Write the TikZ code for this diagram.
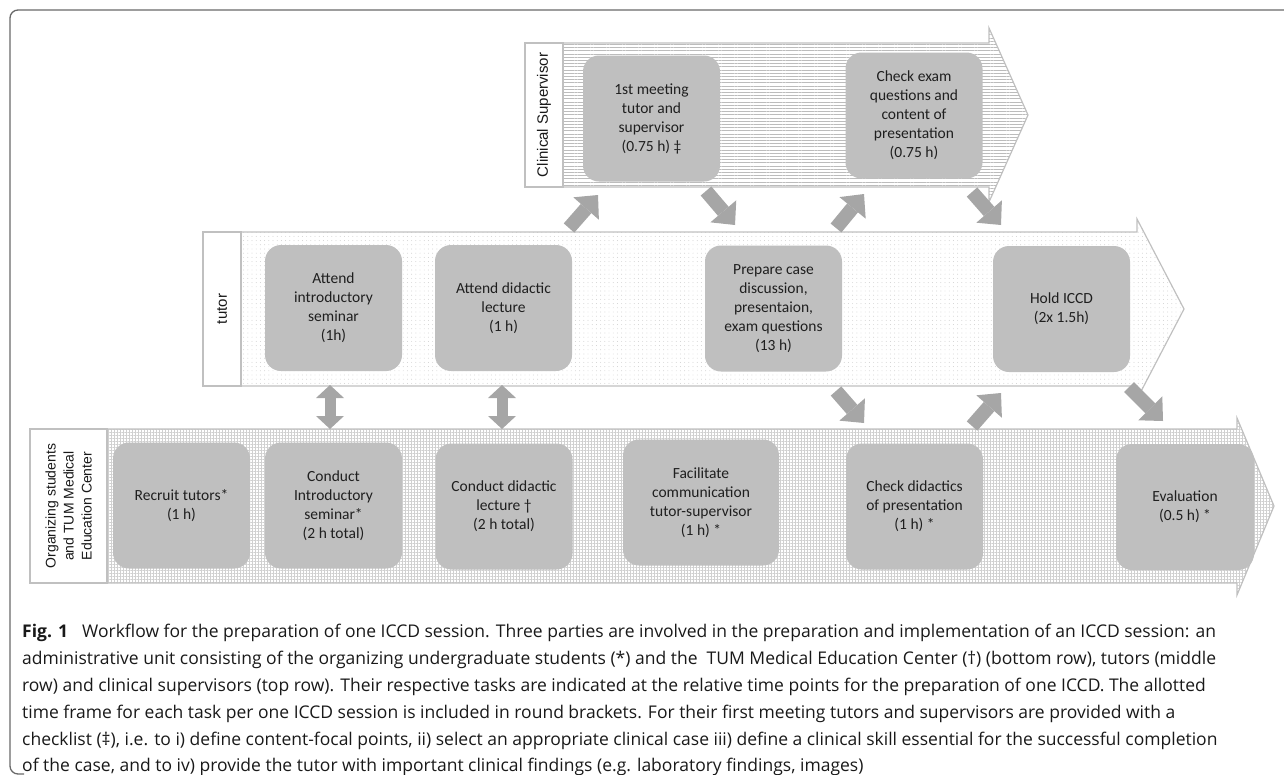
\documentclass[tikz,border=0pt]{standalone}
\usepackage{fontspec}
\setmainfont{Open Sans}
\newfontfamily\calfont{Carlito}
\newfontfamily\arialfont{Liberation Sans}
\usetikzlibrary{arrows.meta,patterns.meta}
\definecolor{boxgray}{RGB}{191,191,191}
\definecolor{arrowgray}{RGB}{166,166,166}
\definecolor{bandline}{RGB}{192,192,192}
\definecolor{framegray}{RGB}{105,105,105}
\definecolor{patgray}{RGB}{188,188,188}
\definecolor{patlight}{RGB}{200,200,200}
\definecolor{patgrid}{RGB}{208,208,208}
\tikzset{
  task/.style={fill=boxgray, rounded corners=16pt, minimum width=137pt, minimum height=126pt,
    align=center, inner sep=0pt, text=black!88, font=\calfont\fontsize{15.5}{19}\selectfont},
  lanelabel/.style={rotate=90, align=center, inner sep=0pt, text=black!90},
  labelbox/.style={draw=bandline, line width=1.2pt, fill=white},
  bandtop/.style={draw=bandline, line width=1.2pt, pattern={Lines[angle=0,distance=3.2pt,line width=0.8pt]}, pattern color=patgray},
  bandmid/.style={draw=bandline, line width=1.2pt, pattern={Dots[radius=0.45pt,distance=4.2pt]}, pattern color=patlight},
  bandbot/.style={draw=bandline, line width=1.2pt, pattern={Hatch[angle=0,distance=3pt,line width=0.3pt]}, pattern color=patgrid},
  flowarrow/.style={draw=arrowgray, line width=14pt, -{Triangle[width=34pt,length=18pt,line width=0pt]}},
  linkarrow/.style={draw=arrowgray, line width=11pt, {Triangle[width=28pt,length=13pt,line width=0pt]}-{Triangle[width=28pt,length=13pt,line width=0pt]}},
  captext/.style={anchor=base west, inner sep=0pt, font=\fontsize{17.5}{27}\selectfont, text=black!90}
}
\begin{document}
\begin{tikzpicture}[x=1pt,y=-1pt]
\useasboundingbox (0,0) rectangle (1284,774);
% outer frame
\draw[framegray, line width=1.3pt, rounded corners=8pt] (1290,10) -- (10,10) -- (10,774) -- (24,774);

% ---- lanes ----
% top lane: Clinical Supervisor
\draw[bandtop] (563,43) -- (989,43) -- (989,28) -- (1028,115) -- (989,202) -- (989,187) -- (563,187) -- cycle;
\draw[labelbox] (525,43) rectangle (563,187);
\node[lanelabel, font=\arialfont\fontsize{15}{17}\selectfont] (labS) at (544,115) {Clinical Supervisor};

% middle lane: tutor
\draw[bandmid] (241,232) -- (1137,232) -- (1137,219) -- (1184,309) -- (1137,399) -- (1137,386) -- (241,386) -- cycle;
\draw[labelbox] (203,232) rectangle (241,386);
\node[lanelabel, font=\arialfont\fontsize{15}{17}\selectfont] (labT) at (222,309) {tutor};

% bottom lane: organizing students
\draw[bandbot] (107,429) -- (1237,429) -- (1237,418) -- (1274,506) -- (1237,595) -- (1237,583) -- (107,583) -- cycle;
\draw[labelbox] (30,429) rectangle (107,583);
\node[lanelabel, font=\arialfont\fontsize{14}{18}\selectfont] (labO) at (68.5,506) {Organizing students\\and TUM Medical\\Education Center};

% ---- tasks ----
\node[task] (s1) at (651.5,118.5) {1st meeting\\tutor and\\supervisor\\(0.75 h) ‡};
\node[task] (s2) at (914,115.5) {Check exam\\questions and\\content of\\presentation\\(0.75 h)};

\node[task] (t1) at (333.5,308) {Attend\\introductory\\seminar\\(1h)};
\node[task] (t2) at (503.5,308) {Attend didactic\\lecture\\(1 h)};
\node[task] (t3) at (773.5,308.5) {Prepare case\\discussion,\\presentaion,\\exam questions\\(13 h)};
\node[task] (t4) at (1061.5,309) {Hold ICCD\\(2x 1.5h)};

\node[task] (b1) at (181.5,505.5) {Recruit tutors*\\(1 h)};
\node[task] (b2) at (333.5,505.5) {Conduct\\Introductory\\seminar*\\(2 h total)};
\node[task] (b3) at (504,506.5) {Conduct didactic\\lecture †\\(2 h total)};
\node[task, minimum width=156pt] (b4) at (701,502.5) {Facilitate\\communication\\tutor-supervisor\\(1 h) *};
\node[task] (b5) at (914.5,506.5) {Check didactics\\of presentation\\(1 h) *};
\node[task, minimum width=138pt] (b6) at (1185,507) {Evaluation\\(0.5 h) *};

% ---- connector end points ----
\coordinate (a1s) at (569,228);  \coordinate (a1e) at (598,195);
\coordinate (a2s) at (706,191);  \coordinate (a2e) at (735,225);
\coordinate (a3s) at (836,228);  \coordinate (a3e) at (864,194);
\coordinate (a4s) at (972,192);  \coordinate (a4e) at (1001,225);
\coordinate (a5s) at (836,391);  \coordinate (a5e) at (864,423);
\coordinate (a6s) at (972,426);  \coordinate (a6e) at (1001,393);
\coordinate (a7s) at (1129,387); \coordinate (a7e) at (1163,421);
\coordinate (d1s) at (330,385);  \coordinate (d1e) at (330,429);
\coordinate (d2s) at (502,385);  \coordinate (d2e) at (502,429);

\draw[flowarrow] (a1s) -- (a1e);
\draw[flowarrow] (a2s) -- (a2e);
\draw[flowarrow] (a3s) -- (a3e);
\draw[flowarrow] (a4s) -- (a4e);
\draw[flowarrow] (a5s) -- (a5e);
\draw[flowarrow] (a6s) -- (a6e);
\draw[flowarrow] (a7s) -- (a7e);
\draw[linkarrow] (d1s) -- (d1e);
\draw[linkarrow] (d2s) -- (d2e);

% ---- caption ----
\node[captext] (cap1) at (22,637) {\textbf{Fig. 1}\hspace{0.55em} Workflow for the preparation of one ICCD session. Three parties are involved in the preparation and implementation of an ICCD session: an};
\node[captext] (cap2) at (22,664) {administrative unit consisting of the organizing undergraduate students (*) and the \ TUM Medical Education Center (†) (bottom row), tutors (middle};
\node[captext] (cap3) at (22,691) {row) and clinical supervisors (top row). Their respective tasks are indicated at the relative time points for the preparation of one ICCD. The allotted};
\node[captext] (cap4) at (22,718) {time frame for each task per one ICCD session is included in round brackets. For their first meeting tutors and supervisors are provided with a};
\node[captext] (cap5) at (22,745) {checklist (‡), i.e. to i) define content-focal points, ii) select an appropriate clinical case iii) define a clinical skill essential for the successful completion};
\node[captext] (cap6) at (22,771) {of the case, and to iv) provide the tutor with important clinical findings (e.g. laboratory findings, images)};
\end{tikzpicture}
\end{document}
